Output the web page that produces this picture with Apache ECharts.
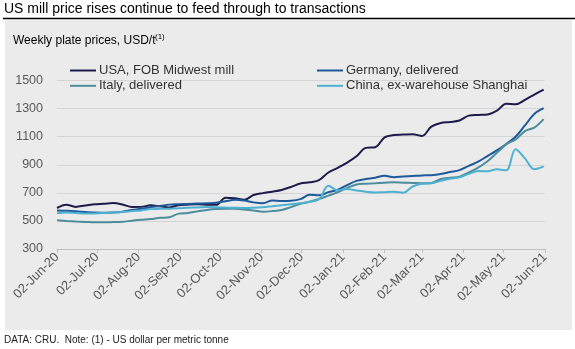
<!DOCTYPE html>
<html><head><meta charset="utf-8">
<script src="https://cdn.jsdelivr.net/npm/echarts@6/dist/echarts.min.js"></script>
<style>html,body{margin:0;padding:0;background:#fff}#c{width:575px;height:349px}</style>
</head><body><div id="c"></div>
<script>
const weekDates = [
 '2020-06-02','2020-06-09','2020-06-16','2020-06-23','2020-06-30','2020-07-07','2020-07-14','2020-07-21','2020-07-28',
 '2020-08-04','2020-08-11','2020-08-18','2020-08-25','2020-09-01','2020-09-08','2020-09-15','2020-09-22','2020-09-29',
 '2020-10-06','2020-10-13','2020-10-20','2020-10-27','2020-11-03','2020-11-10','2020-11-17','2020-11-24','2020-12-01',
 '2020-12-08','2020-12-15','2020-12-22','2020-12-29','2021-01-05','2021-01-12','2021-01-19','2021-01-26','2021-02-02',
 '2021-02-09','2021-02-16','2021-02-23','2021-03-02','2021-03-09','2021-03-16','2021-03-23','2021-03-30','2021-04-06',
 '2021-04-13','2021-04-20','2021-04-27','2021-05-04','2021-05-11','2021-05-18','2021-05-25','2021-06-01'];
const usa = [592,615,600,610,618,622,627,617,599,600,611,604,596,612,616,618,616,615,665,662,650,685,698,708,720,742,766,775,790,845,878,915,960,1020,1025,1095,1112,1115,1118,1105,1172,1198,1205,1215,1250,1255,1258,1285,1335,1330,1362,1400,1435];
const germany = [575,572,568,564,560,558,560,566,578,586,598,606,616,619,621,624,626,630,640,650,645,632,626,645,641,643,655,686,682,705,722,755,785,798,808,822,811,816,820,824,826,834,848,862,892,922,962,1002,1048,1100,1180,1262,1303];
const italy = [505,500,496,493,490,490,492,494,502,508,513,522,526,552,557,568,578,585,587,587,582,575,566,570,578,598,622,636,656,680,705,735,760,765,768,772,775,772,770,768,770,798,808,815,845,880,925,985,1045,1080,1140,1165,1225];
const china = [555,560,556,552,553,556,560,564,570,575,584,586,587,590,594,596,599,598,595,593,592,594,598,605,612,618,626,636,655,750,718,728,716,708,703,705,707,700,745,765,768,785,800,810,835,855,853,868,860,1010,945,868,888];
const seriesNames = ['USA, FOB Midwest mill','Germany, delivered','Italy, delivered','China, ex-warehouse Shanghai'];
const seriesColors = ['#1d1a4c','#1c5a9b','#4b8d9c','#4eb1d2'];
const tickDates = ['2020-06-02','2020-07-02','2020-08-02','2020-09-02','2020-10-02','2020-11-02','2020-12-02','2021-01-02','2021-02-02','2021-03-02','2021-04-02','2021-05-02','2021-06-02'];
const tickLabels = ['02-Jun-20','02-Jul-20','02-Aug-20','02-Sep-20','02-Oct-20','02-Nov-20','02-Dec-20','02-Jan-21','02-Feb-21','02-Mar-21','02-Apr-21','02-May-21','02-Jun-21'];
const yTicks = {min:300, max:1500, step:200};

const toTs = s => { const p = s.split('-').map(Number); return Date.UTC(p[0], p[1]-1, p[2]); };
const tickTs = tickDates.map(toTs);
const pair = vals => weekDates.map((d,i)=>[toTs(d), vals[i]]);
const allVals = [usa, germany, italy, china];
const FONT = '"Liberation Sans", Arial, sans-serif';

const chart = echarts.init(document.getElementById('c'));
const legendBase = {orient:'vertical', top:63.5, padding:0, itemWidth:26, itemHeight:2, itemGap:1.3, icon:'rect',
  textStyle:{fontSize:13, color:'#333', fontFamily:FONT, lineHeight:14, padding:[0,0,0,-2]}};
chart.setOption({
  animation:false,
  textStyle:{fontFamily:FONT},
  graphic:[
    {type:'rect', z:-10, silent:true, shape:{x:5,y:20,width:567,height:310}, style:{fill:'#ebebeb'}},
    {type:'line', silent:true, shape:{x1:3,y1:18.5,x2:575,y2:18.5}, style:{stroke:'#000',lineWidth:1.5}},
    {type:'text', silent:true, x:4, y:2, style:{text:'US mill price rises continue to feed through to transactions', font:'14px '+FONT, fill:'#000'}},
    {type:'text', silent:true, x:13, y:35, style:{text:'Weekly plate prices, USD/t', font:'12px '+FONT, fill:'#000'}},
    {type:'text', silent:true, x:155, y:33, style:{text:'(1)', font:'8px '+FONT, fill:'#000'}},
    {type:'text', silent:true, x:4, y:335, style:{text:'DATA: CRU.  Note: (1) - US dollar per metric tonne', font:'10px '+FONT, fill:'#222'}}
  ],
  legend:[
    Object.assign({}, legendBase, {left:70, data:[seriesNames[0], seriesNames[2]]}),
    Object.assign({}, legendBase, {left:317, data:[seriesNames[1], seriesNames[3]]})
  ],
  grid:{left:57, right:30, top:80.5, bottom:100, containLabel:false, outerBoundsMode:'none'},
  xAxis:{
    type:'value', min:toTs('2020-06-02'), max:toTs('2021-06-02'), scale:true,
    axisLine:{lineStyle:{color:'#bfbfbf', width:1}},
    axisTick:{show:true, length:4, lineStyle:{color:'#bfbfbf'}, customValues:tickTs},
    axisLabel:{customValues:tickTs, rotate:45, margin:6, fontSize:13, color:'#595959', fontFamily:FONT,
      formatter:v => { const i = tickTs.indexOf(v); return i >= 0 ? tickLabels[i] : ''; }},
    splitLine:{show:false}
  },
  yAxis:{
    type:'value', min:yTicks.min, max:yTicks.max, interval:yTicks.step,
    axisLine:{show:false}, axisTick:{show:false},
    axisLabel:{fontSize:12.5, color:'#595959', margin:14, fontFamily:FONT, formatter:v => String(v)},
    splitLine:{lineStyle:{color:'#d4d4d4', width:1}}
  },
  series: seriesNames.map((n,k)=>({
    name:n, type:'line', data:pair(allVals[k]), showSymbol:false, smooth:0.35,
    color:seriesColors[k], lineStyle:{width:2, color:seriesColors[k]}
  }))
});
</script></body></html>
